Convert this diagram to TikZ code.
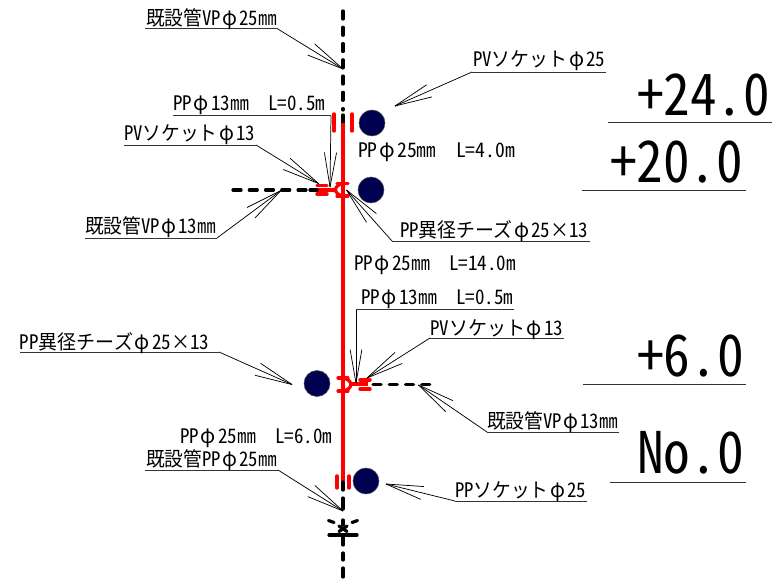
\documentclass[tikz,border=0pt]{standalone}
\usepackage{fontspec}
\usepackage{graphicx}
\usetikzlibrary{calc}
\setmainfont{Noto Sans CJK JP}
\newfontfamily\hwfont[RawFeature=+hwid]{Noto Sans CJK JP}
\newcommand\hw[1]{{\hwfont #1}}
\newcommand\ph{\makebox[1em][c]{\scalebox{1.05}{φ}}}
\newcommand\pd{\makebox[.5em][c]{.}}
\newlength\pxu \setlength\pxu{0.75pt}
\definecolor{navyc}{HTML}{000050}
\definecolor{redp}{HTML}{FF0000}
\tikzset{
 x=0.75pt,y=-0.75pt,
 blackpipe/.style={line width=2.4pt,black,line cap=round,dash pattern=on 6pt off 6.2pt},
 redpipe/.style={line width=2.6pt,redp},
 redtick/.style={line width=2.6pt,redp,line cap=round},
 redfit/.style={line width=2.4pt,redp,line cap=round},
 blacktick/.style={line width=2.4pt,black,line cap=round},
 leaderline/.style={line width=0.55pt,black},
 rule/.style={line width=0.7pt,black!80},
 joint/.style={circle,draw=black!70,fill=navyc,minimum size=19.5pt,inner sep=0pt,line width=.4pt},
 lab/.style={anchor=base west,inner sep=0pt,outer sep=0pt},
}
% name, x, baseline y, width(px), font size(pt), text
\newcommand\lab[6]{\node[lab] (#1) at (#2,#3) {\resizebox{#4\pxu}{\height}{\fontsize{#5}{#5}\selectfont #6}};}
% tip, elbow, barb length in px
\newcommand\barbs[3]{%
 \draw[leaderline] (#2) -- (#1);
 \draw[leaderline] (#1) -- ($(#1)!#3*0.75pt!10:(#2)$);
 \draw[leaderline] (#1) -- ($(#1)!#3*0.75pt!-10:(#2)$);}
\begin{document}
\begin{tikzpicture}
\useasboundingbox (0,0) rectangle (773,580);
% pipes
\draw[blackpipe] (343,11) -- (343,110);
\draw[blacktick] (343,115) -- (343,123);
\draw[redpipe] (343,123) -- (343,481);
\draw[redpipe] (317,190) -- (336,190);
\draw[blackpipe] (233,190) -- (312,190);
\draw[blacktick] (310,190) -- (317,190);
\draw[redpipe] (350,384) -- (368,384);
\draw[blackpipe] (373,384.5) -- (430,384.5);
% lower pipe, drawn as its dashes
\foreach \a/\b in {482/490,498/509,520/525,537/545,553/560,568/577}
  \draw[blacktick] (343,\a) -- (343,\b);
% sockets
\draw[redtick] (334,114) -- (334,131);
\draw[redtick] (352,114) -- (352,131);
\draw[redtick] (317,185.5) -- (327,185.5);
\draw[redtick] (317,194) -- (327,194);
\draw[redfit] (337,183.5) -- (348,183.5);
\draw[redfit] (337,196) -- (348,196);
\draw[redfit] (343,183.5) .. controls (333,185.5) and (333,194) .. (343,196);
\draw[redfit] (338,378) -- (348,378);
\draw[redfit] (338,391) -- (348,391);
\draw[redfit] (343,378) .. controls (353.5,380) and (353.5,389) .. (343,391);
\draw[redtick] (360,380) -- (370,380);
\draw[redtick] (360,389) -- (370,389);
\draw[redtick] (337,476) -- (337,488);
\draw[redtick] (349,476) -- (349,488);
% flange at foot
\draw[blacktick] (328.5,520.5) -- (334,522.5);
\draw[blacktick] (352,522.5) -- (357.5,520.5);
\draw[blacktick] (329,535) -- (357,535);
\draw[blacktick] (339,526) -- (347,531.5);
\draw[blacktick] (347,526) -- (339,531.5);
% joints
\node[joint] (j1) at (372,123) {};
\node[joint] (j2) at (371,190) {};
\node[joint] (j3) at (317,383.5) {};
\node[joint] (j4) at (366,481) {};
% leader coordinates
\coordinate (t1) at (343,69); \coordinate (e1) at (277,28.5); \coordinate (s1) at (145,28.5);
\coordinate (t2) at (395,106); \coordinate (e2) at (472,72); \coordinate (s2) at (606,72);
\coordinate (t3) at (330,187); \coordinate (e3) at (331,115.5); \coordinate (s3) at (173,115.5);
\coordinate (t4) at (318.5,183.5); \coordinate (e4) at (256,145); \coordinate (s4) at (124,145);
\coordinate (t5) at (281,190.5); \coordinate (e5) at (217,238); \coordinate (s5) at (85,238);
\coordinate (t6) at (346.5,190); \coordinate (e6) at (392,241); \coordinate (s6) at (590,241);
\coordinate (t7) at (356,383); \coordinate (e7) at (356,309); \coordinate (s7) at (514,309);
\coordinate (t8) at (367,378); \coordinate (e8) at (430,338); \coordinate (s8) at (564,338);
\coordinate (t9) at (418.5,385); \coordinate (e9) at (487,432); \coordinate (s9) at (619,432);
\coordinate (t10) at (292,384.5); \coordinate (e10) at (219,352); \coordinate (s10) at (20,352);
\coordinate (t11) at (343,511); \coordinate (e11) at (278,470); \coordinate (s11) at (145,470);
\coordinate (t12) at (386,484); \coordinate (e12) at (455,501); \coordinate (s12) at (587,501);
\barbs{t1}{e1}{38}
\barbs{t2}{e2}{38}
\barbs{t3}{e3}{35}
\barbs{t4}{e4}{38}
\barbs{t5}{e5}{38}
\barbs{t6}{e6}{38}
\barbs{t7}{e7}{34}
\barbs{t8}{e8}{38}
\barbs{t9}{e9}{38}
\barbs{t10}{e10}{38}
\barbs{t11}{e11}{38}
\barbs{t12}{e12}{38}
\foreach \a/\b in {s1/e1,s2/e2,s3/e3,s4/e4,s5/e5,s6/e6,s7/e7,s8/e8,s9/e9,s10/e10,s11/e11,s12/e12}
  \draw[rule] (\a) -- (\b);
% rules under levels
\coordinate (l1a) at (608,122.5); \coordinate (l1b) at (772,122.5);
\coordinate (l2a) at (582,190); \coordinate (l2b) at (746,190);
\coordinate (l3a) at (583,384); \coordinate (l3b) at (746,384);
\coordinate (l4a) at (610,482); \coordinate (l4b) at (746,482);
\draw[rule] (l1a) -- (l1b);
\draw[rule] (l2a) -- (l2b);
\draw[rule] (l3a) -- (l3b);
\draw[rule] (l4a) -- (l4b);
% labels
\lab{a1}{146}{25.5}{131}{15}{既設管\hw{VP}\ph\hw{25}㎜}
\lab{a2}{473}{67}{132}{15}{\hw{PV}ソケット\ph\hw{25}}
\lab{a3}{173}{111}{152}{15}{\hw{PP}\ph\hw{13}㎜　\hw{L=0\pd 5m}}
\lab{a4}{124}{141}{131}{15}{\hw{PV}ソケット\ph\hw{13}}
\lab{a5}{85}{234}{131}{15}{既設管\hw{VP}\ph\hw{13}㎜}
\lab{a6}{400}{238}{188}{15}{\hw{PP}異径チーズ\ph\hw{25}×\hw{13}}
\lab{a7}{358}{158}{157}{15}{\hw{PP}\ph\hw{25}㎜　\hw{L=4\pd 0m}}
\lab{a8}{354}{271}{162}{15}{\hw{PP}\ph\hw{25}㎜　\hw{L=14\pd 0m}}
\lab{a9}{361}{305}{152}{15}{\hw{PP}\ph\hw{13}㎜　\hw{L=0\pd 5m}}
\lab{a10}{430}{335}{133}{15}{\hw{PV}ソケット\ph\hw{13}}
\lab{a11}{487}{428}{131}{15}{既設管\hw{VP}\ph\hw{13}㎜}
\lab{a12}{20}{349}{189}{15}{\hw{PP}異径チーズ\ph\hw{25}×\hw{13}}
\lab{a13}{180}{443}{152}{15}{\hw{PP}\ph\hw{25}㎜　\hw{L=6\pd 0m}}
\lab{a14}{146}{466}{131}{15}{既設管\hw{PP}\ph\hw{25}㎜}
\lab{a15}{455}{497}{131}{15}{\hw{PP}ソケット\ph\hw{25}}
\lab{b1}{637}{116}{133}{43}{\hw{+24\pd 0}}
\lab{b2}{610}{183}{133}{43}{\hw{+20\pd 0}}
\lab{b3}{637}{376}{107}{43}{\hw{+6\pd 0}}
\lab{b4}{637}{473}{107}{43}{\hw{No\pd 0}}
\end{tikzpicture}
\end{document}
